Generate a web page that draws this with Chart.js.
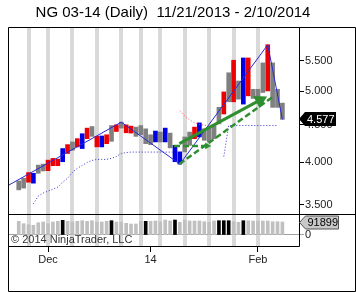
<!DOCTYPE html>
<html>
<head>
<meta charset="utf-8">
<script src="https://cdn.jsdelivr.net/npm/chart.js@4.4.1/dist/chart.umd.min.js"></script>
<style>
  html, body { margin: 0; padding: 0; background: #fff; }
</style>
</head>
<body>
<canvas id="chart" width="356" height="292"></canvas>
<script>
const chartTitle = 'NG 03-14 (Daily)  11/21/2013 - 2/10/2014';
const copyright = '\u00A9 2014 NinjaTrader, LLC';

// session index -> tick labels on the time axis
const xTickIndex = [6, 27, 49];
const xTickLabels = ['Dec', '14', 'Feb'];
// first session of each week (shaded)
const weekStart = [2, 6, 11, 16, 21, 25, 29, 34, 39, 44, 49];

const priceTicks = [3.5, 4.0, 4.5, 5.0, 5.5];

const barLow = [3.668, 3.688, 3.757, 3.746, 3.864, 3.892, 3.896, 3.957, 3.957, 4.007,
  4.112, 4.154, 4.198, 4.176, 4.308, 4.339, 4.198, 4.198, 4.241, 4.272,
  4.406, 4.453, 4.388, 4.384, 4.339, 4.361, 4.241, 4.228, 4.264, 4.264,
  4.264, 4.185, 4.007, 3.977, 4.133, 4.219, 4.308, 4.331, 4.285, 4.264,
  4.308, 4.513, 4.655, 4.837, 4.837, 4.877, 4.802, 4.928, 4.888, 4.877,
  4.980, 5.005, 4.753, 4.753, 4.577];
const barHigh = [3.772, 3.804, 3.873, 3.864, 3.965, 3.977, 4.027, 4.049, 4.040, 4.176,
  4.228, 4.264, 4.308, 4.375, 4.453, 4.475, 4.339, 4.344, 4.361, 4.489,
  4.499, 4.537, 4.499, 4.481, 4.467, 4.489, 4.443, 4.361, 4.412, 4.398,
  4.453, 4.384, 4.219, 4.133, 4.331, 4.398, 4.467, 4.527, 4.443, 4.453,
  4.489, 4.753, 4.989, 5.299, 5.511, 5.163, 5.551, 5.551, 5.031, 5.031,
  5.466, 5.786, 5.466, 5.031, 4.817];
const barTone = 'ggrbggrrrb' + 'rgrbrgrbrg' + 'rgrrggggbg' + 'bgbbggrbgg' + 'ggrgrgbrgg' + 'grggg';
const lastClose = 4.577;

const volume = [96800, 79900, 72800, 68600, 86900, 91900, 79900, 91900, 96800, 103900,
  96800, 91900, 96800, 101100, 96800, 101100, 91900, 91900, 96800, 101100,
  91900, 91900, 82700, 77800, 77800, 96800, 96800, 96800, 99000, 94000,
  106000, 99000, 106000, 89800, 106000, 99000, 99000, 99000, 94000, 89800,
  99000, 101100, 101100, 101100, 94000, 89800, 101100, 101100, 99000, 99000,
  99000, 99000, 94000, 94000, 91899];
const volumeBlack = [9, 19, 26, 32, 41, 42, 43, 46];

// trailing stops
const stopLong = [null, null, null, 3.509, 3.598, 3.631, 3.654, 3.676, 3.700, 3.757,
  3.804, 3.876, 3.925, 3.961, 3.998, 4.023, 4.036, 4.036, 4.036, 4.049,
  4.073, 4.112, 4.124, 4.130, 4.130, 4.130, 4.130, 4.130, 4.130, 4.130,
  4.130, 4.130, 4.130, null, null, null, null, null, null, null,
  null, null, 4.073, 4.489, 4.489, 4.489, 4.489, 4.489, 4.489, 4.489,
  4.489, 4.489, 4.489, 4.489, null];
const stopShort = [null, null, null, null, null, null, null, null, null, null,
  null, null, null, null, null, null, null, null, null, null,
  null, null, null, null, null, null, null, null, null, null,
  null, null, null, 4.703, 4.626, 4.569, 4.527, 4.506, 4.492, 4.485,
  4.485, null, null, null, null, null, null, null, null, null,
  null, null, null, null, null];

// zigzag pivots
const zigX = [-2.2, 21, 33, 51, 54];
const zigY = [3.718, 4.537, 3.977, 5.786, 4.577];

// drawn trend objects
const arrowX = [32.9, 49.4];
const arrowY = [4.241, 4.862];
const dashX = [32.9, 51.9];
const dashY = [3.977, 4.903];
const flatX = [31.8, 38.6];
const flatY = [4.211, 4.211];

const FONT = 'Liberation Sans, Arial, sans-serif';
const toneColor = { g: '#808080', r: '#ee0000', b: '#0000e6' };
const green = '#2f8f2f';

const idx = barLow.map((_, i) => i);
const pts = (xs, ys) => xs.map((x, i) => ({ x, y: ys[i] }));
const series = (arr) => arr.map((y, i) => ({ x: i, y }));
const headOnly = (n, r) => Array.from({ length: n }, (_, i) => (i === n - 1 ? r : 0));

function drawFlag(ctx, left, mid, w, h, fill, stroke, color, text) {
  ctx.beginPath();
  ctx.moveTo(left, mid);
  ctx.lineTo(left + 6, mid - h / 2);
  ctx.lineTo(left + w, mid - h / 2);
  ctx.lineTo(left + w, mid + h / 2);
  ctx.lineTo(left + 6, mid + h / 2);
  ctx.closePath();
  ctx.fillStyle = fill;
  ctx.fill();
  if (stroke) { ctx.strokeStyle = stroke; ctx.lineWidth = 1; ctx.stroke(); }
  ctx.fillStyle = color;
  ctx.font = '11px ' + FONT;
  ctx.textAlign = 'left';
  ctx.textBaseline = 'middle';
  ctx.fillText(text, left + 8, mid + 0.5);
}

const panelFrame = {
  id: 'panelFrame',
  beforeDraw(chart) {
    const { ctx, chartArea, scales: { x } } = chart;
    ctx.save();
    ctx.fillStyle = '#d9d9d9';
    weekStart.forEach(i => {
      const px = Math.round(x.getPixelForValue(i));
      ctx.fillRect(px - 2, chartArea.top, 4, chartArea.bottom - chartArea.top);
    });
    // title
    ctx.fillStyle = '#000';
    ctx.font = '15px ' + FONT;
    ctx.textAlign = 'center';
    ctx.textBaseline = 'middle';
    ctx.fillText(chartTitle, 173, 13);
    ctx.restore();
  },
  afterDatasetsDraw(chart) {
    const { ctx, chartArea } = chart;
    ctx.save();
    ctx.fillStyle = '#333';
    ctx.font = '11px ' + FONT;
    ctx.textBaseline = 'middle';
    ctx.fillText(copyright, chartArea.left + 3, 240);
    ctx.restore();
  },
  afterDraw(chart) {
    const { ctx, chartArea, scales: { y, yv } } = chart;
    const W = chart.width, H = chart.height;
    const L = chartArea.left + 0.5, R = chartArea.right + 0.5;
    const T = chartArea.top + 0.5, B = chartArea.bottom + 0.5;
    const D = Math.round(yv.top) + 0.5;
    ctx.save();
    ctx.strokeStyle = '#000';
    ctx.lineWidth = 1;
    ctx.beginPath();
    ctx.moveTo(L, T); ctx.lineTo(W - 0.5, T);
    ctx.moveTo(L, D); ctx.lineTo(W - 0.5, D);
    ctx.moveTo(L, B); ctx.lineTo(R, B);
    ctx.moveTo(L, T); ctx.lineTo(L, H - 0.5);
    ctx.moveTo(R, T); ctx.lineTo(R, B);
    ctx.moveTo(W - 0.5, T); ctx.lineTo(W - 0.5, H - 0.5);
    ctx.moveTo(L, H - 0.5); ctx.lineTo(W - 0.5, H - 0.5);
    ctx.stroke();

    drawFlag(ctx, chartArea.right, Math.round(y.getPixelForValue(lastClose)), 37, 14,
      '#000', null, '#fff', lastClose.toFixed(3));
    const lastVol = volume[volume.length - 1];
    drawFlag(ctx, chartArea.right + 0.5, Math.round(yv.getPixelForValue(lastVol)) + 0.5, 39, 13,
      '#c8c8c8', '#555', '#000', String(lastVol));
    ctx.restore();
  }
};

const lineBase = { type: 'line', yAxisID: 'y', pointRadius: 0, tension: 0, fill: false, spanGaps: false };

new Chart(document.getElementById('chart'), {
  type: 'bar',
  data: {
    datasets: [
      { ...lineBase, label: 'ZigZag', data: pts(zigX, zigY), borderColor: '#2a2ad6', borderWidth: 1, order: 1 },
      { ...lineBase, label: 'Stop long', data: series(stopLong), borderColor: '#3030d0', borderWidth: 1, borderDash: [1, 2], order: 2 },
      { ...lineBase, label: 'Stop short', data: series(stopShort), borderColor: '#ff5a5a', borderWidth: 1, borderDash: [1, 2], order: 2 },
      { ...lineBase, label: 'Trend', data: pts(arrowX, arrowY), borderColor: green, borderWidth: 3,
        pointRadius: headOnly(arrowX.length, 8), pointStyle: 'triangle', pointRotation: 62,
        pointBackgroundColor: green, pointBorderWidth: 0, order: 0 },
      { ...lineBase, label: 'Channel', data: pts(dashX, dashY), borderColor: green, borderWidth: 2.5, borderDash: [6, 3], order: 0 },
      { ...lineBase, label: 'Level', data: pts(flatX, flatY), borderColor: green, borderWidth: 2.5, borderDash: [6, 3],
        pointRadius: headOnly(flatX.length, 4), pointStyle: 'triangle', pointRotation: 90,
        pointBackgroundColor: green, pointBorderWidth: 0, order: 0 },
      { label: 'Price', yAxisID: 'y', grouped: false, barThickness: 4, order: 3,
        data: idx.map(i => ({ x: i, y: [barLow[i], barHigh[i]] })),
        backgroundColor: idx.map(i => toneColor[barTone[i]]) },
      { label: 'Volume', yAxisID: 'yv', grouped: false, barThickness: 3, order: 3,
        data: idx.map(i => ({ x: i, y: volume[i] })),
        backgroundColor: idx.map(i => (volumeBlack.includes(i) ? '#000' : '#c0c0c0')) }
    ]
  },
  options: {
    responsive: false,
    animation: false,
    devicePixelRatio: 1,
    layout: { padding: { left: 1, right: 1, top: 27, bottom: 0 } },
    plugins: {
      legend: { display: false },
      tooltip: { enabled: false },
      title: { display: false }
    },
    scales: {
      x: {
        type: 'linear',
        min: -2.2,
        max: 57.4,
        offset: false,
        border: { display: false },
        grid: { drawOnChartArea: false, offset: false, color: '#000', tickLength: 6 },
        afterBuildTicks: (s) => { s.ticks = xTickIndex.map(v => ({ value: v })); },
        afterFit: (s) => { s.height = 46; },
        ticks: {
          autoSkip: false, maxRotation: 0, padding: 1, color: '#222',
          font: { family: FONT, size: 11 },
          callback: (v) => xTickLabels[xTickIndex.indexOf(v)]
        }
      },
      y: {
        type: 'logarithmic',
        position: 'right',
        stack: 'panels',
        stackWeight: 187,
        min: 3.423,
        max: 6.118,
        border: { display: false },
        grid: { drawOnChartArea: false, color: '#000', tickLength: 5 },
        afterBuildTicks: (s) => { s.ticks = priceTicks.map(v => ({ value: v })); },
        afterFit: (s) => { s.width = 56; },
        ticks: {
          padding: 1, color: '#222',
          font: { family: FONT, size: 11 },
          callback: (v) => Number(v).toFixed(3)
        }
      },
      yv: {
        type: 'linear',
        position: 'right',
        stack: 'panels',
        stackWeight: 32,
        min: -77760,
        max: 148450,
        border: { display: false },
        grid: { drawOnChartArea: true, color: '#a0a0a0', tickLength: 5 },
        afterBuildTicks: (s) => { s.ticks = [{ value: 0 }]; },
        afterFit: (s) => { s.width = 56; },
        ticks: {
          padding: 1, color: '#222',
          font: { family: FONT, size: 11 },
          callback: () => '0'
        }
      }
    }
  },
  plugins: [panelFrame]
});
</script>
</body>
</html>
